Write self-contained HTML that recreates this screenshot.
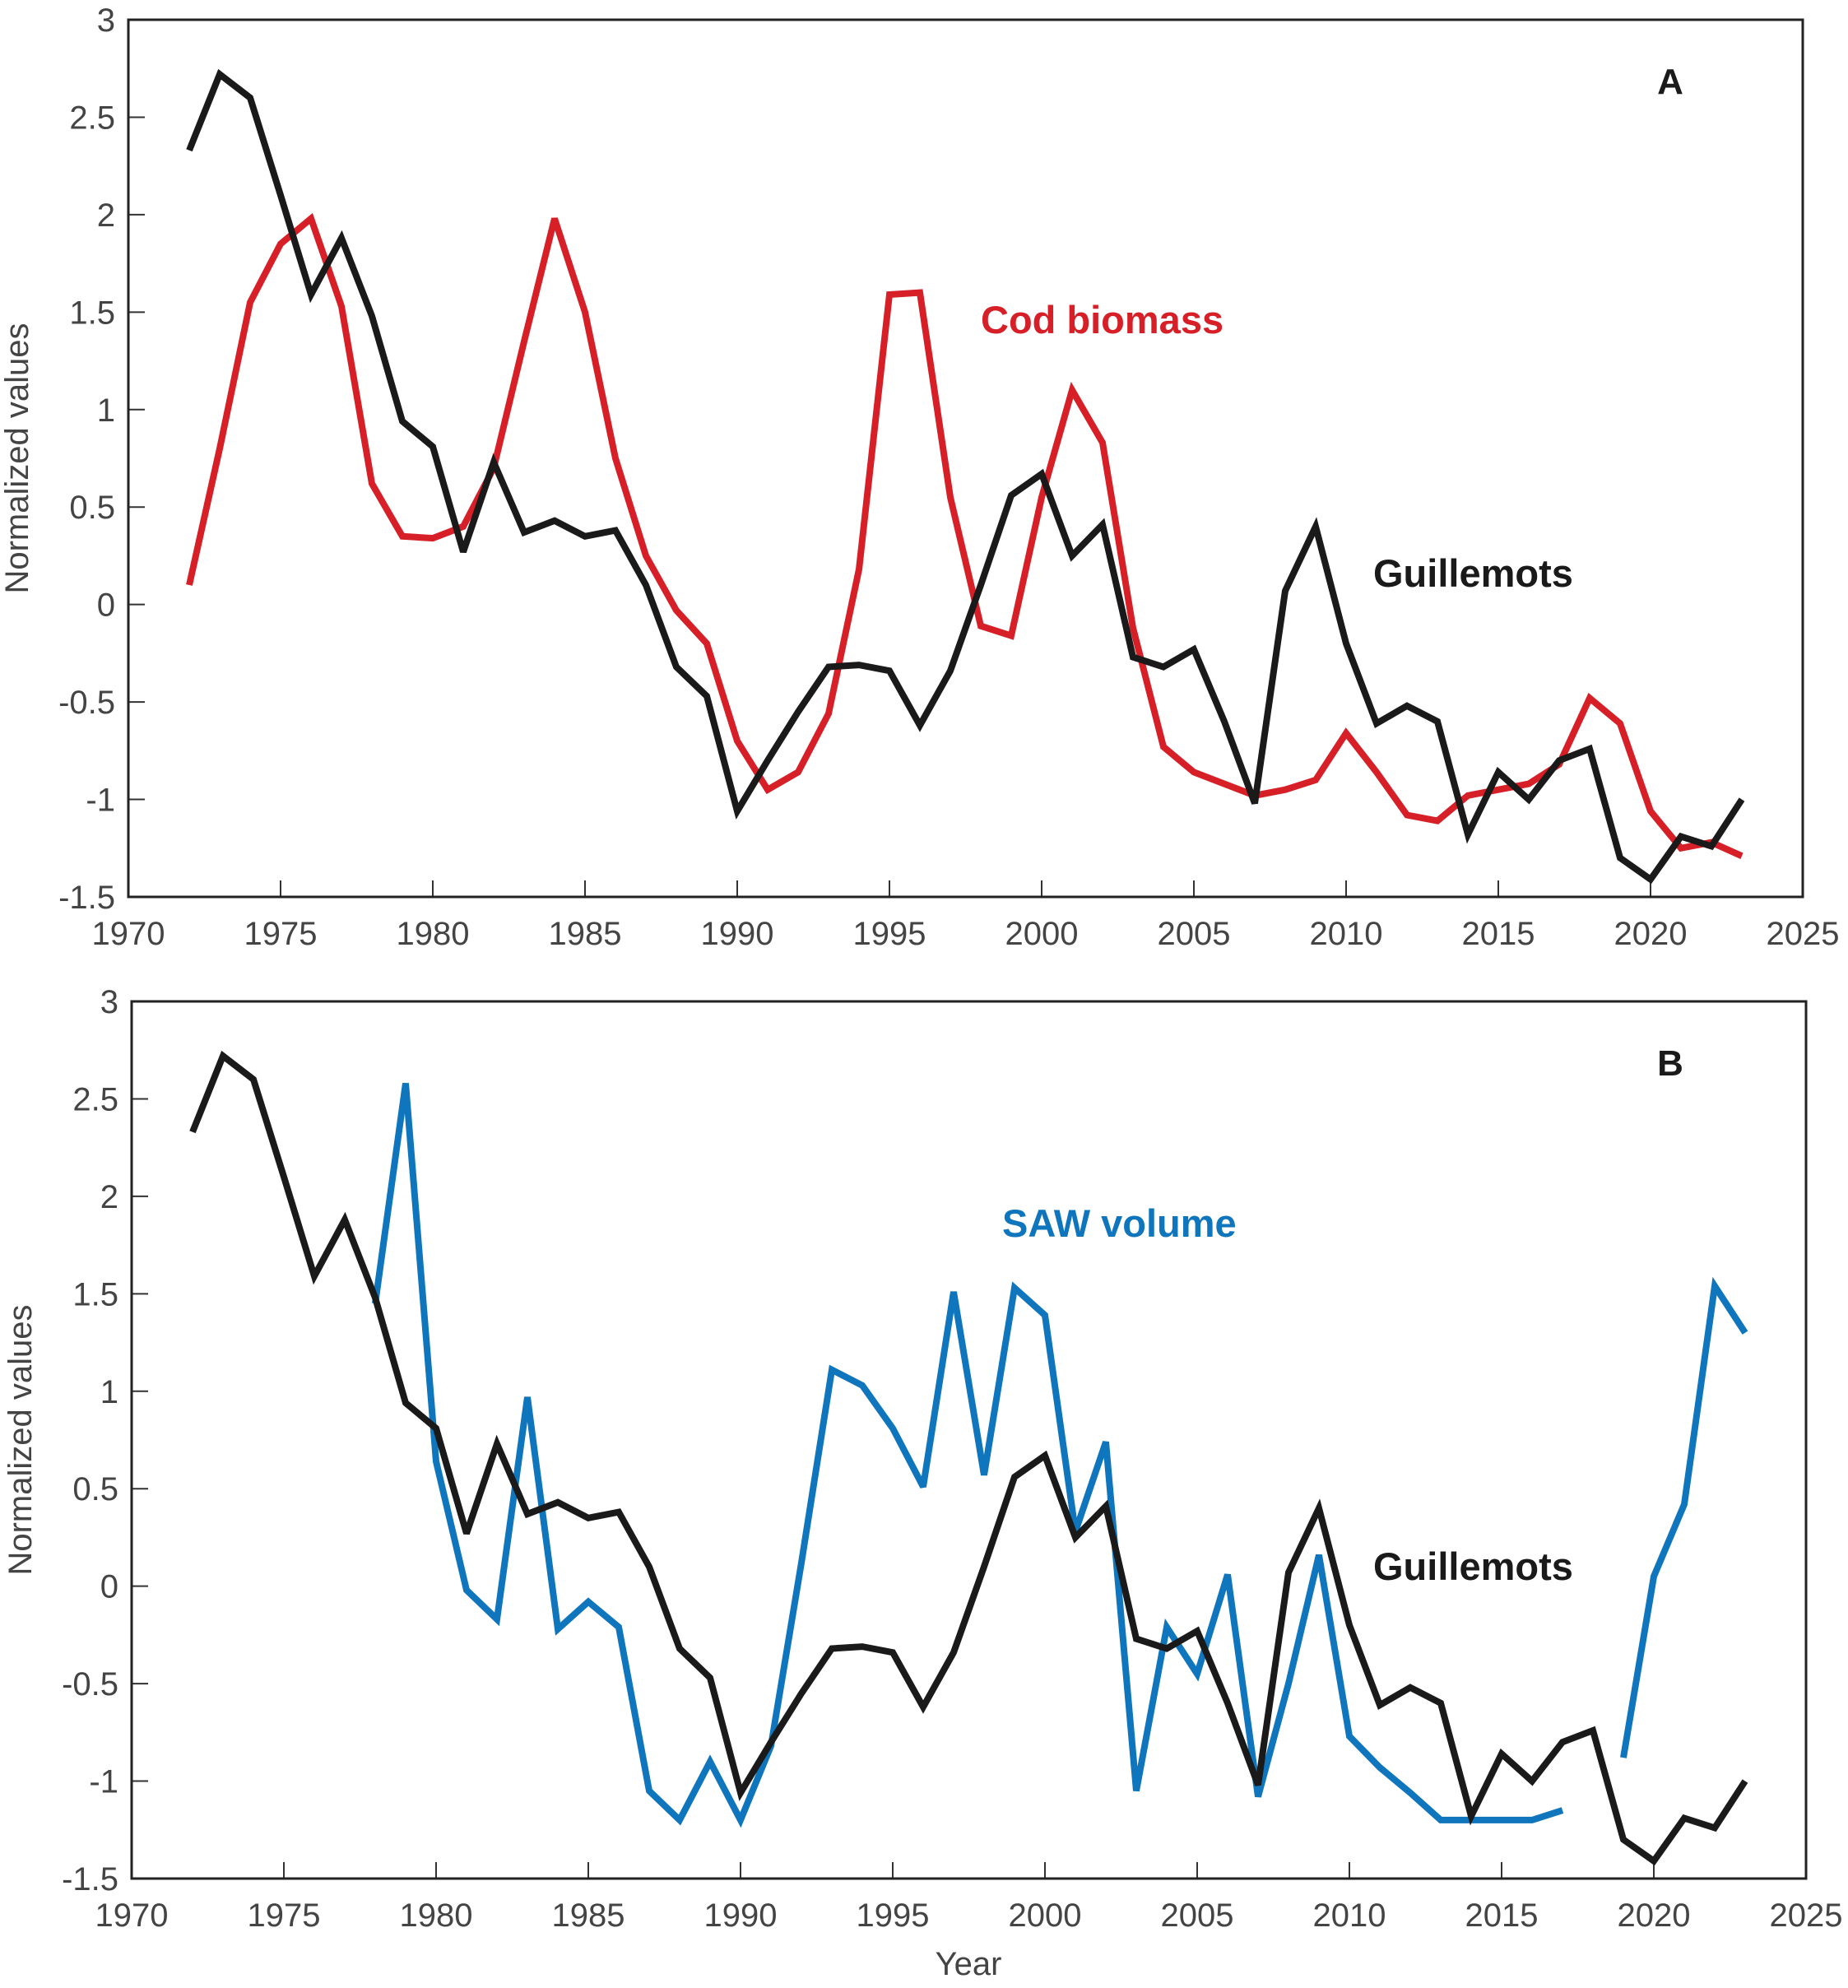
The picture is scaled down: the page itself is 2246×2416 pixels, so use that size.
<!DOCTYPE html>
<html><head><meta charset="utf-8">
<style>
html,body{margin:0;padding:0;background:#fff;}
svg{display:block;font-family:"Liberation Sans",Arial,sans-serif;}
</style></head>
<body>
<svg id="chart" width="2246" height="2416" viewBox="0 0 2246 2416" xmlns="http://www.w3.org/2000/svg"></svg>
<script>
const years = [];
for (let y = 1972; y <= 2023; y++) years.push(y);
const guillemots = [2.33,2.72,2.6,2.1,1.59,1.88,1.48,0.94,0.81,0.27,0.73,0.37,0.43,0.35,0.38,0.1,-0.32,-0.47,-1.06,-0.8,-0.55,-0.32,-0.31,-0.34,-0.62,-0.34,0.1,0.56,0.67,0.25,0.41,-0.27,-0.32,-0.23,-0.6,-1.02,0.07,0.4,-0.2,-0.61,-0.52,-0.6,-1.18,-0.86,-1.0,-0.8,-0.74,-1.3,-1.41,-1.19,-1.24,-1.0];
const codBiomass = [0.1,0.8,1.55,1.85,1.98,1.53,0.62,0.35,0.34,0.4,0.7,1.35,1.98,1.5,0.75,0.25,-0.03,-0.2,-0.7,-0.95,-0.86,-0.56,0.18,1.59,1.6,0.55,-0.11,-0.16,0.55,1.1,0.83,-0.12,-0.73,-0.86,-0.92,-0.98,-0.95,-0.9,-0.66,-0.86,-1.08,-1.11,-0.98,-0.95,-0.92,-0.82,-0.48,-0.61,-1.06,-1.25,-1.22,-1.29];
const sawVolume = [null,null,null,null,null,null,1.45,2.58,0.64,-0.02,-0.17,0.97,-0.22,-0.08,-0.21,-1.05,-1.2,-0.9,-1.2,-0.82,0.12,1.11,1.03,0.81,0.51,1.51,0.57,1.53,1.39,0.28,0.74,-1.05,-0.21,-0.45,0.06,-1.08,-0.5,0.16,-0.77,-0.93,-1.06,-1.2,-1.2,-1.2,-1.2,-1.15,null,-0.88,0.05,0.42,1.54,1.3];
const xTicks = [1970,1975,1980,1985,1990,1995,2000,2005,2010,2015,2020,2025];
const yTicks = [-1.5,-1,-0.5,0,0.5,1,1.5,2,2.5,3];

const NS = "http://www.w3.org/2000/svg";
const svg = document.getElementById('chart');
function mk(tag, attrs, parent){
  const e = document.createElementNS(NS, tag);
  for (const k in attrs) e.setAttribute(k, attrs[k]);
  (parent||svg).appendChild(e); return e;
}

function panel(cfg){
  const g = mk('g', {});
  
  
  const L=cfg.left, R=cfg.right, T=cfg.top, B=cfg.bottom;
  const xs = v => L + (v-1970)/(2025-1970)*(R-L);
  const ys = v => B - (v+1.5)/(3+1.5)*(B-T);
  // ticks
  xTicks.forEach(t=>{
    const x = xs(t);
    const tk = mk('line',{x1:x,x2:x,y1:B,y2:B-20,stroke:'#333','stroke-width':2},g);
    
    
    const tx = mk('text',{x:x,y:B+58,'text-anchor':'middle','font-size':40,fill:'#444'},g);
    tx.textContent = t;
    
    
  });
  yTicks.forEach(t=>{
    const y = ys(t);
    const tk = mk('line',{x1:L,x2:L+20,y1:y,y2:y,stroke:'#333','stroke-width':2},g);
    
    
    const tx = mk('text',{x:L-16,y:y+14,'text-anchor':'end','font-size':40,fill:'#444'},g);
    tx.textContent = t;
    
    
  });
  const fr = mk('rect',{x:L,y:T,width:R-L,height:B-T,fill:'none',stroke:'#222','stroke-width':3},g);
  
  
  const yl = mk('text',{x:0,y:0,'text-anchor':'middle','font-size':40,fill:'#444',transform:`translate(${L-122},${(T+B)/2}) rotate(-90)`},g);
  yl.textContent = 'Normalized values';
  
  
  function series(vals, color, name){
    let d='', pen=false;
    vals.forEach((v,i)=>{
      if (v===null){pen=false;return;}
      d += (pen?'L':'M') + xs(years[i]).toFixed(1)+','+ys(v).toFixed(1)+' ';
      pen=true;
    });
    const p = mk('path',{d:d,fill:'none',stroke:color,'stroke-width':8,'stroke-linejoin':'miter','stroke-miterlimit':3},g);
    
    
  }
  series(cfg.other, cfg.otherColor, cfg.otherName);
  series(guillemots, '#1a1a1a', 'guillemots-line');
  const pl = mk('text',{x:2030,y:T+90,'text-anchor':'middle','font-size':44,'font-weight':'bold',fill:'#1a1a1a'},g);
  pl.textContent = cfg.letter;
  
  
  const gl = mk('text',{x:1669,y:cfg.guilY,'font-size':47,'font-weight':'bold',fill:'#1a1a1a'},g);
  gl.textContent = 'Guillemots';
  
  
  const ol = mk('text',{x:cfg.otherLX,y:cfg.otherLY,'font-size':47,'font-weight':'bold',fill:cfg.otherColor},g);
  ol.textContent = cfg.otherLabel;
  
  
}
panel({name:'panel-a',letter:'A',left:156,right:2191,top:24,bottom:1090,other:codBiomass,otherColor:'#d71f27',otherName:'cod-biomass-line',otherLabel:'Cod biomass',otherLX:1192,otherLY:405,guilY:713});
panel({name:'panel-b',letter:'B',left:160,right:2195,top:1217,bottom:2283,other:sawVolume,otherColor:'#0f75bc',otherName:'saw-volume-line',otherLabel:'SAW volume',otherLX:1218,otherLY:1503,guilY:1920});
const xl = mk('text',{x:1177,y:2400,'text-anchor':'middle','font-size':40,fill:'#444'});
xl.textContent='Year';


</script>
</body></html>
